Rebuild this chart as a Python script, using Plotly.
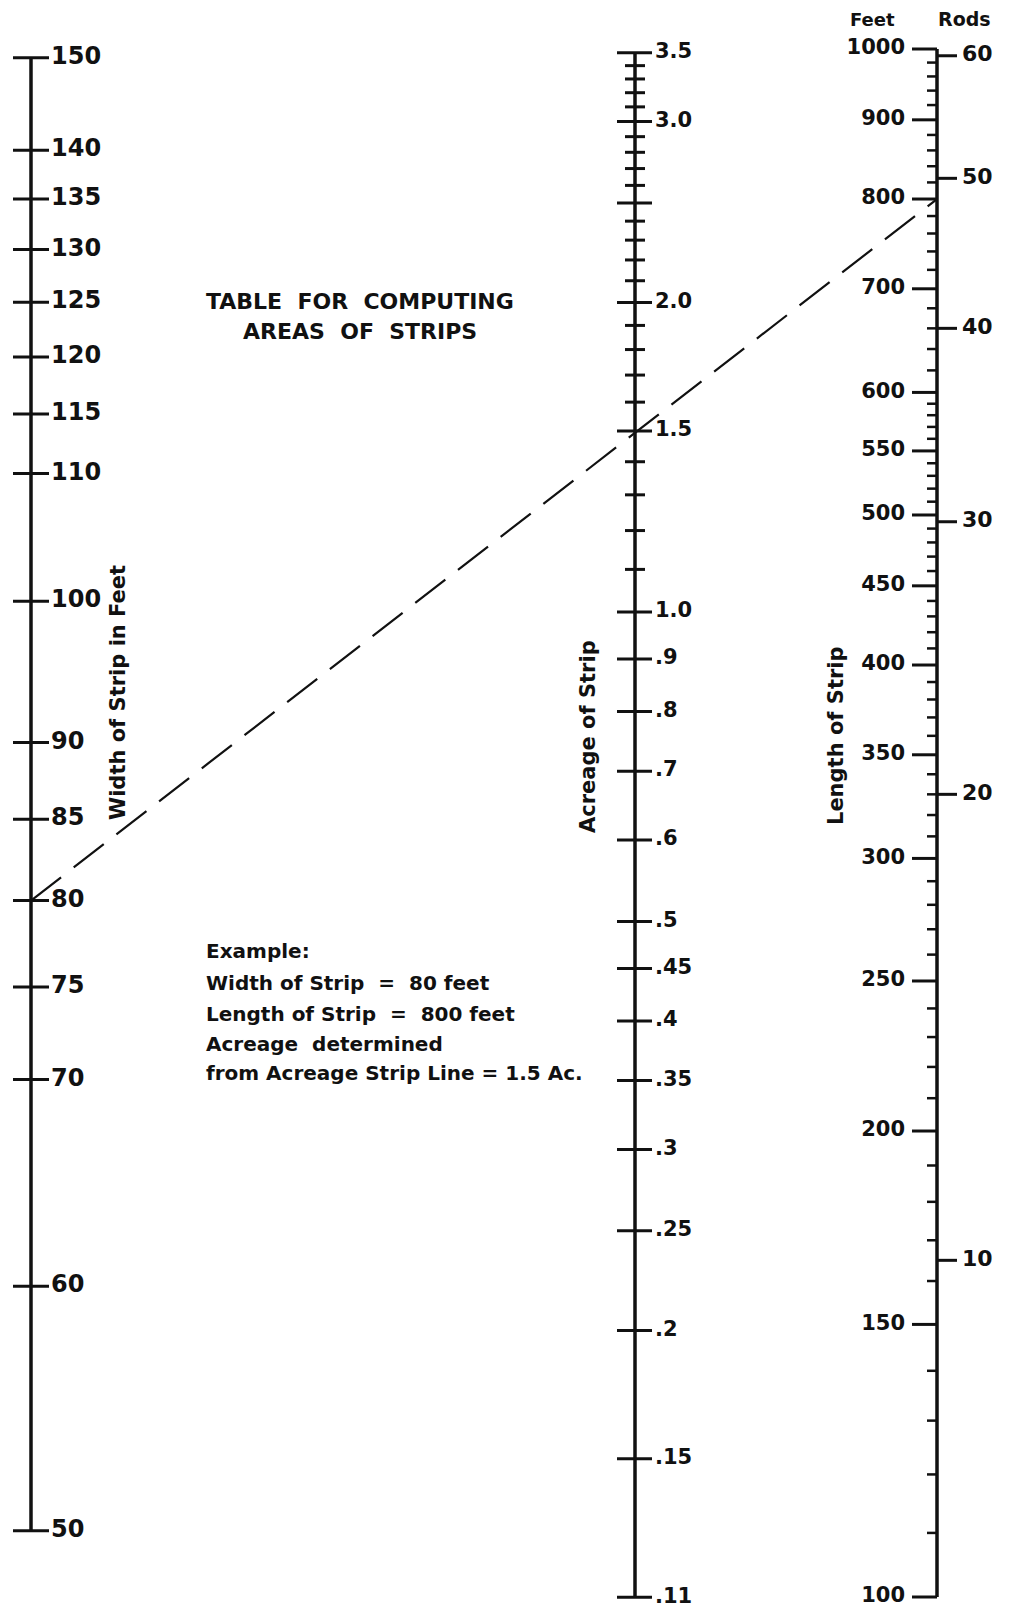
import numpy as np
import plotly.graph_objects as go

W, H = 1011, 1613
M = 8  # the page body keeps its default 8px margin, so the figure sits inside it
FW, FH = W - 2 * M, H - M

# left scale: width of strip in feet
width_ticks = [150, 140, 135, 130, 125, 120, 115, 110, 100, 90, 85, 80, 75, 70, 60, 50]

# middle scale: acreage of strip
acre_ticks = [3.5, 3.0, 2.0, 1.5, 1.0, 0.9, 0.8, 0.7, 0.6, 0.5, 0.45, 0.4, 0.35, 0.3, 0.25, 0.2, 0.15, 0.11]
acre_labels = ["3.5", "3.0", "2.0", "1.5", "1.0", ".9", ".8", ".7", ".6", ".5",
               ".45", ".4", ".35", ".3", ".25", ".2", ".15", ".11"]
acre_unlabeled = [2.5]
acre_minor = [3.4, 3.3, 3.2, 3.1, 2.9, 2.8, 2.7, 2.6, 2.4, 2.3, 2.2, 2.1,
              1.9, 1.8, 1.7, 1.6, 1.4, 1.3, 1.2, 1.1]

# right scale: length of strip, feet and rods
feet_ticks = [1000, 900, 800, 700, 600, 550, 500, 450, 400, 350, 300, 250, 200, 150, 100]
feet_minor = [980, 960, 940, 920, 880, 860, 840, 820, 780, 760, 740, 720,
              680, 660, 640, 620, 590, 580, 570, 560, 540, 530, 520, 510,
              490, 480, 470, 460, 440, 430, 420, 410, 390, 380, 370, 360,
              340, 330, 320, 310, 290, 280, 270, 260, 240, 230, 220, 210,
              190, 180, 170, 160, 140, 130, 120, 110]
rods_ticks = [60, 50, 40, 30, 20, 10]
FEET_PER_ROD = 16.5

# worked example
ex_width = 80
ex_length = 800

example_lines = ["Example:",
                 "Width of Strip \u00a0=\u00a0 80 feet",
                 "Length of Strip \u00a0=\u00a0 800 feet",
                 "Acreage\u00a0 determined",
                 "from Acreage Strip Line = 1.5 Ac."]


def log_range(v_top, px_top, v_bot, px_bot):
    # log10 range so v_top lands at screen row px_top and v_bot at px_bot
    px_top, px_bot = px_top - M, px_bot - M
    k = (px_bot - px_top) / (np.log10(v_top) - np.log10(v_bot))
    r1 = np.log10(v_top) + px_top / k
    return [r1 - FH / k, r1]


rng_w = log_range(150, 57.7, 50, 1530.7)
rng_a = log_range(3.5, 52.7, 0.11, 1597.3)
rng_f = log_range(1000, 49, 100, 1597)
rng_r = [rng_f[0] - np.log10(FEET_PER_ROD), rng_f[1] - np.log10(FEET_PER_ROD)]

XW, XA, XL = 31, 635, 937


def seg(vals, x0, x1):
    xs, ys = [], []
    for v in vals:
        xs += [x0, x1, None]
        ys += [v, v, None]
    return xs, ys


ink = "#111111"
fig = go.Figure()


def add_line(xs, ys, yax, w):
    fig.add_trace(go.Scatter(x=xs, y=ys, yaxis=yax, mode="lines",
                             line=dict(color=ink, width=w), hoverinfo="skip"))


def add_text(xs, ys, txt, yax, pos, size):
    fig.add_trace(go.Scatter(x=xs, y=ys, yaxis=yax, mode="text", text=txt,
                             textposition=pos, cliponaxis=False,
                             textfont=dict(family="DejaVu Sans", size=size, color=ink, weight="bold"),
                             hoverinfo="skip"))


# width scale
add_line([XW, XW], [min(width_ticks), max(width_ticks)], "y", 3.5)
add_line(*seg(width_ticks, XW - 18, XW + 18), "y", 3)
add_text([XW + 20] * len(width_ticks), width_ticks, [str(v) for v in width_ticks],
         "y", "middle right", 24)

# acreage scale
add_line([XA, XA], [min(acre_ticks), max(acre_ticks)], "y2", 3.5)
add_line(*seg(acre_ticks + acre_unlabeled, XA - 18, XA + 17), "y2", 3)
add_line(*seg(acre_minor, XA - 10, XA + 10), "y2", 3)
add_text([XA + 20] * len(acre_ticks), acre_ticks, acre_labels,
         "y2", "middle right", 21)

# length scale
add_line([XL, XL], [min(feet_ticks), max(feet_ticks)], "y3", 3.5)
add_line(*seg(feet_ticks, XL - 25, XL), "y3", 3)
add_line(*seg(feet_minor, XL - 10, XL), "y3", 2.5)
add_text([XL - 32] * len(feet_ticks), feet_ticks, [str(v) for v in feet_ticks],
         "y3", "middle left", 21)
add_line(*seg(rods_ticks, XL, XL + 20), "y4", 3)
add_text([XL + 25] * len(rods_ticks), rods_ticks, [str(v) for v in rods_ticks],
         "y4", "middle right", 22)

# example line on the width axis; right end at the height of ex_length on the feet axis
frac = (np.log10(ex_length) - rng_f[0]) / (rng_f[1] - rng_f[0])
end_w = 10 ** (rng_w[0] + frac * (rng_w[1] - rng_w[0]))
fig.add_trace(go.Scatter(x=[XW, XL], y=[ex_width, end_w], yaxis="y", mode="lines",
                         line=dict(color=ink, width=2.2, dash="38px,16px"), hoverinfo="skip"))

ax = dict(type="log", visible=False, fixedrange=True, domain=[0, 1])
fig.update_layout(
    width=FW, height=FH,
    margin=dict(l=0, r=0, t=0, b=0, pad=0),
    paper_bgcolor="white", plot_bgcolor="white",
    showlegend=False,
    xaxis=dict(range=[M, W - M], visible=False, fixedrange=True, domain=[0, 1]),
    yaxis=dict(ax, range=rng_w),
    yaxis2=dict(ax, range=rng_a, overlaying="y", anchor="x"),
    yaxis3=dict(ax, range=rng_f, overlaying="y", anchor="x"),
    yaxis4=dict(ax, range=rng_r, overlaying="y", anchor="x"),
)


def note(x, y, text, size, angle=0, xanchor="center"):
    fig.add_annotation(x=(x - M) / FW, y=1 - (y - M) / FH, xref="paper", yref="paper",
                       text="<b>" + text + "</b>", showarrow=False, textangle=angle,
                       xanchor=xanchor, yanchor="middle",
                       font=dict(family="DejaVu Sans", size=size, color=ink))


note(360, 302, "TABLE\u00a0 FOR\u00a0 COMPUTING", 22)
note(360, 332, "AREAS\u00a0 OF\u00a0 STRIPS", 22)

ex_rows = [951, 983, 1014, 1044, 1073]
for row, line in zip(ex_rows, example_lines):
    note(204, row, line, 20, xanchor="left")

note(118, 693, "Width of Strip in Feet", 21, angle=-90)
note(588, 737, "Acreage of Strip", 21, angle=-90)
note(836, 736, "Length of Strip", 21, angle=-90)
note(872, 19, "Feet", 18)
note(964, 19, "Rods", 19)

fig.write_html("out.html")
